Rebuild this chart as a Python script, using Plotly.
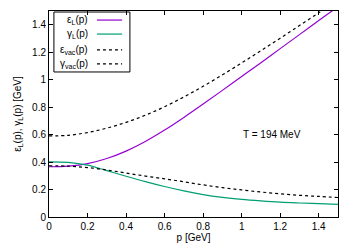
import plotly.graph_objects as go

p = [0.0, 0.1, 0.2, 0.3, 0.4, 0.5, 0.6, 0.7, 0.8, 0.9, 1.0, 1.1, 1.2, 1.3, 1.4, 1.5]
eps_L = [0.366, 0.371, 0.389, 0.426, 0.480, 0.550, 0.633, 0.725, 0.822, 0.922, 1.023, 1.124, 1.226, 1.328, 1.430, 1.532]
gam_L = [0.402, 0.398, 0.378, 0.338, 0.297, 0.258, 0.222, 0.190, 0.163, 0.143, 0.128, 0.117, 0.108, 0.102, 0.097, 0.092]
eps_vac = [0.590, 0.595, 0.615, 0.647, 0.689, 0.741, 0.803, 0.874, 0.952, 1.035, 1.122, 1.211, 1.302, 1.394, 1.487, 1.581]
gam_vac = [0.373, 0.370, 0.360, 0.342, 0.320, 0.298, 0.278, 0.256, 0.234, 0.214, 0.197, 0.182, 0.169, 0.158, 0.150, 0.142]

legend_labels = ["ε<sub>L</sub>(p)", "γ<sub>L</sub>(p)", "ε<sub>vac</sub>(p)", "γ<sub>vac</sub>(p)"]
colors = ["#9400D3", "#009E73", "black", "black"]
dashes = ["solid", "solid", "3px,3px", "3px,3px"]
series = [eps_L, gam_L, eps_vac, gam_vac]

FONT = "Liberation Sans, Arial, sans-serif"

fig = go.Figure()
for ys, c, d, name in zip(series, colors, dashes, legend_labels):
    fig.add_trace(go.Scatter(x=p, y=ys, mode="lines", name=name,
                             line=dict(color=c, width=1.2, dash=d, shape="spline"),
                             showlegend=False))

# manual gnuplot-style legend (text right-aligned, then sample)
rows = [0.956, 0.888, 0.811, 0.743]
for lab, c, d, yy in zip(legend_labels, colors, dashes, rows):
    fig.add_annotation(xref="paper", yref="paper", x=0.142, y=yy, text=lab,
                       showarrow=False, xanchor="right", yanchor="middle",
                       font=dict(family=FONT, size=10, color="black"))
    fig.add_shape(type="line", xref="paper", yref="paper", x0=0.166, x1=0.253,
                  y0=yy, y1=yy, line=dict(color=c, width=1.2, dash=d))
fig.add_shape(type="rect", xref="paper", yref="paper", x0=0.017, x1=0.28,
              y0=0.704, y1=0.995, line=dict(color="black", width=1))

fig.add_annotation(xref="x", yref="y", x=1.157, y=0.60, text="T = 194 MeV",
                   showarrow=False, font=dict(family=FONT, size=10, color="black"))

axis_common = dict(showline=True, linecolor="black", linewidth=1, mirror="ticks",
                   ticks="inside", ticklen=4, tickcolor="black", showgrid=False,
                   zeroline=False, automargin=False,
                   tickfont=dict(family=FONT, size=10, color="black"))

tv = [0, 0.2, 0.4, 0.6, 0.8, 1, 1.2, 1.4]
tt = ["0", "0.2", "0.4", "0.6", "0.8", "1", "1.2", "1.4"]

fig.update_xaxes(range=[0, 1.5], tickvals=tv, ticktext=tt,
                 title=dict(text="p [GeV]", font=dict(family=FONT, size=10, color="black"), standoff=2),
                 **axis_common)
fig.update_yaxes(range=[0, 1.5], tickvals=tv, ticktext=tt,
                 title=dict(text="ε<sub>L</sub>(p), γ<sub>L</sub>(p) [GeV]",
                            font=dict(family=FONT, size=10, color="black"), standoff=8),
                 **axis_common)

fig.update_layout(width=356, height=249, margin=dict(l=49, r=18, t=11, b=32),
                  paper_bgcolor="white", plot_bgcolor="white", showlegend=False)

fig.write_html("out.html", config={"displayModeBar": False},
               post_script="document.body.style.margin='0';document.body.style.overflow='hidden';")
